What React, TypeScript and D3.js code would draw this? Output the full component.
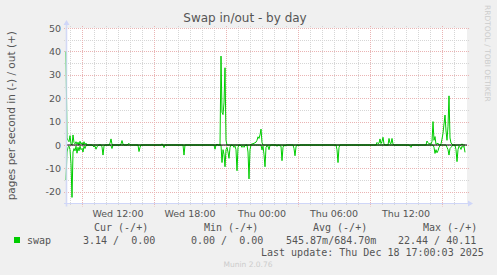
import React from "react";
import * as d3 from "d3";

// ---- data (5-minute steps from Wed Dec 17 07:40, value in pages/s) ----
const swapOut: [number, number][] = [
  [0, 40], [1, 3], [2, 2], [3, 1.4], [4, 4], [5, 0.5], [6, 0], [7, 4.3], [8, 1], [9, 0.5], [10, 1.4], [11, 0.3], [12, 1.2], [13, 0], [14, 1.6], [15, 0.4], [16, 1], [17, 0], [18, 1.4], [19, 0.2], [20, 0.8], [21, 0],
  [43, 0], [44, 0.8], [45, 2.6], [46, 0.3], [47, 0],
  [54, 0], [55, 0.5], [56, 1.9], [57, 0.4], [58, 0],
  [61, 0], [62, 0.3], [63, 0.7], [64, 0.2], [65, 0],
  [95, 0], [96, 0.5], [97, 0],
  [150, 0], [151, 0.4], [152, 0],
  [154, 0], [155, 38], [156, 14], [157, 13], [158, 18], [159, 33], [160, 2], [161, 0],
  [184, 0], [185, 0.3], [186, 0.4], [187, 0.6], [188, 0.7], [189, 1], [190, 1.2], [191, 2], [192, 3.5], [193, 2.8], [194, 4.3], [195, 6.8], [196, 1], [197, 0],
  [310, 0], [311, 1.1], [312, 0.6], [313, 0.8], [314, 2.6], [315, 0.6], [316, 1.5], [317, 3.3], [318, 0.4], [319, 0],
  [322, 0], [323, 2.8], [324, 0.8], [325, 0.6], [326, 2.8], [327, 0.4], [328, 0],
  [360, 0], [361, 1.7], [362, 1], [363, 0.5], [364, 0.6], [365, 0.4], [366, 1.5], [367, 10], [368, 2], [369, 3.6], [370, 0.3], [371, 0.5], [372, 0.8], [373, 0],
  [374, 0], [375, 0.5], [376, 2.5], [377, 5], [378, 9], [379, 12.8], [380, 6], [381, 2], [382, 8], [383, 21], [384, 3], [385, 0.8], [386, 0.5], [387, 0],
  [395, 0], [396, 0.5], [397, 0], [399, 0],
];

const swapIn: [number, number][] = [
  [0, 15], [1, 3], [2, 1], [3, 0.5], [4, 2], [5, 8], [6, 22.4], [7, 3], [8, 1.5], [9, 2.5], [10, 0.5], [11, 3.5], [12, 1], [13, 2.5], [14, 0.5], [15, 2], [16, 1.5], [17, 3], [18, 0.5], [19, 1.5], [20, 0.3], [21, 0],
  [26, 0], [27, 0.5], [28, 0.8], [29, 0.5], [30, 1.8], [31, 0.8], [32, 0.3], [33, 0],
  [35, 0], [36, 0.8], [37, 4.3], [38, 0.5], [39, 0],
  [44, 0], [45, 0.3], [46, 1.5], [47, 0],
  [72, 0], [73, 2.8], [74, 1], [75, 0],
  [97, 0], [98, 1.1], [99, 0],
  [117, 0], [118, 4.3], [119, 0],
  [148, 0], [149, 1.8], [150, 0],
  [155, 0], [156, 7.5], [157, 2], [158, 4], [159, 9.3], [160, 2], [161, 1], [162, 3], [163, 5.7], [164, 1], [165, 0],
  [167, 0.3], [168, 1], [169, 0.5], [170, 2], [171, 11], [172, 1], [173, 0],
  [175, 0.3], [176, 1], [177, 0.5], [178, 1], [179, 0.3], [180, 0],
  [181, 0], [182, 3], [183, 14.5], [184, 2], [185, 0],
  [195, 0], [196, 2.1], [197, 0.5], [198, 4], [199, 9.3], [200, 1], [201, 0.3], [202, 0.5], [203, 2], [204, 0.2], [205, 0],
  [210, 0], [211, 0.6], [212, 0], [215, 0.5], [216, 6.7], [217, 1], [218, 0], [219, 0.5], [220, 0],
  [227, 0], [228, 1.5], [229, 4.6], [230, 0.8], [231, 0], [233, 0.3], [234, 0],
  [270, 0], [271, 2], [272, 7.5], [273, 1], [274, 0],
  [343, 0], [344, 0.5], [345, 1], [346, 0],
  [367, 0], [368, 1], [369, 3.6], [370, 2], [371, 3.3], [372, 2.5], [373, 1], [374, 0.3], [375, 0],
  [380, 0], [381, 1], [382, 2], [383, 4.3], [384, 1.5], [385, 1], [386, 0.5], [387, 0],
  [389, 0], [390, 2], [391, 7.1], [392, 2], [393, 0.5], [394, 1], [395, 1.9], [396, 0.5], [397, 1], [398, 0.5], [399, 3.14],
];

const yMajorTicks = [-20, -10, 0, 10, 20, 30, 40, 50];
const yMinorTicks = [-15, -5, 5, 15, 25, 35, 45];

const legendHeaders = ["Cur (-/+)", "Min (-/+)", "Avg (-/+)", "Max (-/+)"];
const legendValues = ["3.14 /  0.00", "0.00 /  0.00", "545.87m/684.70m", "22.44 / 40.11"];
const seriesName = "swap";
const title = "Swap in/out - by day";
const yLabel = "pages per second in (-) / out (+)";
const lastUpdate = "Last update: Thu Dec 18 17:00:03 2025";
const footer = "Munin 2.0.76";
const sideText = "RRDTOOL / TOBI OETIKER";

const startTime = new Date(2025, 11, 17, 7, 40);
const stepMs = 5 * 60 * 1000;
const endTime = new Date(startTime.getTime() + 400 * stepMs);

export default function App() {
  const left = 67, right = 467, top = 28, bottom = 203.5;
  const x = d3.scaleTime().domain([startTime, endTime]).range([66, 466]);
  const y = d3.scaleLinear().domain([-25, 50]).range([bottom, top]);
  const tx = (i: number) => x(new Date(startTime.getTime() + i * stepMs));

  const lineOut = d3.line<[number, number]>().x((d) => tx(d[0])).y((d) => y(d[1]));
  const lineIn = d3.line<[number, number]>().x((d) => tx(d[0])).y((d) => y(-d[1]));

  const hours = d3.timeHour.range(startTime, endTime);
  const fmt = d3.timeFormat("%a %H:%M");
  const minorHours = hours.filter((h) => h.getHours() % 6 !== 3);
  const majorHours = hours.filter((h) => h.getHours() % 6 === 3);
  const labelHours = hours.filter((h) => h.getHours() % 6 === 0);

  const gridGray = "#d6d6d6";
  const gridRed = "#eab4b4";
  const axisCol = "#CFD6F8";
  const font = "DejaVu Sans, sans-serif";
  const mono = "DejaVu Sans Mono, monospace";
  const textCol = "#555555";

  const headerX = [94, 204, 313, 423];
  const valueX = [83, 191, 286, 398];

  return (
    <svg width={497} height={275} style={{ position: "absolute", left: 0, top: 0, background: "#F0F0F0" }}>
      <rect x={0} y={0} width={497} height={275} fill="#F0F0F0" />
      <rect x={left} y={top} width={right - left} height={bottom - top} fill="#ffffff" />
      {/* minor grid */}
      {yMinorTicks.map((v) => (
        <line key={"ym" + v} x1={left - 3} x2={right + 2} y1={Math.round(y(v)) + 0.5} y2={Math.round(y(v)) + 0.5} stroke={gridGray} strokeDasharray="1,1" />
      ))}
      {minorHours.map((h) => (
        <line key={"xm" + h.getTime()} x1={Math.round(x(h)) + 0.5} x2={Math.round(x(h)) + 0.5} y1={top - 2} y2={bottom + 2} stroke={gridGray} strokeDasharray="1,1" />
      ))}
      {/* major grid */}
      {yMajorTicks.map((v) => (
        <line key={"yM" + v} x1={left - 3} x2={right + 2} y1={Math.round(y(v)) + 0.5} y2={Math.round(y(v)) + 0.5} stroke={gridRed} strokeDasharray="1,1" />
      ))}
      {majorHours.map((h) => (
        <line key={"xM" + h.getTime()} x1={Math.round(x(h)) + 0.5} x2={Math.round(x(h)) + 0.5} y1={top - 2} y2={bottom + 3} stroke={gridRed} strokeDasharray="1,1" />
      ))}
      {/* data */}
      <path d={lineIn(swapIn) || ""} fill="none" stroke="#00CC00" strokeWidth={1} />
      <path d={lineOut(swapOut) || ""} fill="none" stroke="#00CC00" strokeWidth={1} />
      <line x1={left} x2={right} y1={y(0)} y2={y(0)} stroke="#000000" strokeWidth={1.2} />
      {/* axes */}
      <line x1={left - 3} x2={469} y1={bottom} y2={bottom} stroke={axisCol} strokeWidth={1} />
      <line x1={left - 0.5} x2={left - 0.5} y1={bottom + 3} y2={24} stroke={axisCol} strokeWidth={1.6} opacity={0.85} />
      <path d={`M${left - 3.5},25 L${left + 2.5},25 L${left - 0.5},20 Z`} fill={axisCol} />
      <path d={`M468,${bottom - 3} L468,${bottom + 3} L473,${bottom} Z`} fill={axisCol} />
      {/* y tick labels */}
      {yMajorTicks.map((v) => (
        <text key={"yl" + v} x={61} y={y(v) + 3.5} textAnchor="end" fontFamily={font} fontSize={9.5} fill={textCol}>
          {v}
        </text>
      ))}
      {/* x labels */}
      {labelHours.map((h) => (
        <text key={"xl" + h.getTime()} x={x(h)} y={216.5} textAnchor="middle" fontFamily={font} fontSize={9.5} fill={textCol}>
          {fmt(h)}
        </text>
      ))}
      {/* title */}
      <text x={245} y={22} textAnchor="middle" fontFamily={font} fontSize={12} fill={textCol}>
        {title}
      </text>
      <text transform={`translate(15,${(top + bottom) / 2}) rotate(-90)`} textAnchor="middle" fontFamily={font} fontSize={10.5} fill={textCol}>
        {yLabel}
      </text>
      <text transform="translate(485,5) rotate(90)" fontFamily={font} fontSize={7.5} fill="#cccccc">
        {sideText}
      </text>
      {/* legend */}
      {legendHeaders.map((t, i) => (
        <text key={"lh" + i} x={headerX[i]} y={230.5} fontFamily={mono} fontSize={10} fill={textCol} style={{ whiteSpace: "pre" }}>
          {t}
        </text>
      ))}
      <rect x={14} y={237} width={6} height={6} fill="#00CC00" />
      <text x={27} y={243.5} fontFamily={mono} fontSize={10} fill={textCol}>
        {seriesName}
      </text>
      {legendValues.map((t, i) => (
        <text key={"lv" + i} x={valueX[i]} y={243.5} fontFamily={mono} fontSize={10} fill={textCol} style={{ whiteSpace: "pre" }}>
          {t}
        </text>
      ))}
      <text x={261} y={255.5} fontFamily={mono} fontSize={10} fill={textCol}>
        {lastUpdate}
      </text>
      <text x={248} y={267} textAnchor="middle" fontFamily={font} fontSize={7.5} fill="#cccccc">
        {footer}
      </text>
    </svg>
  );
}
